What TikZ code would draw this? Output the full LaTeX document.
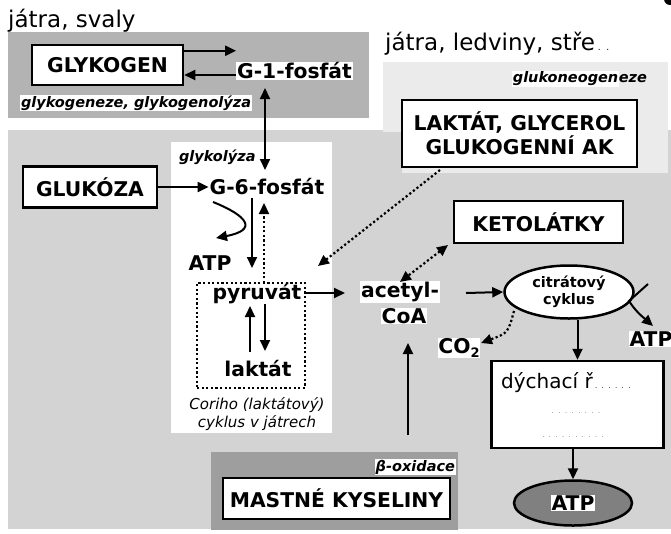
\documentclass[tikz,border=0pt]{standalone}
\usepackage{fontspec}
\setmainfont{DejaVu Sans}
\usetikzlibrary{arrows.meta,shapes.geometric}
\definecolor{gmain}{HTML}{D3D3D3}
\definecolor{gdark}{HTML}{B3B3B3}
\definecolor{glight}{HTML}{EBEBEB}
\definecolor{gbeta}{HTML}{9E9E9E}
\definecolor{gatp}{HTML}{808080}
\begin{document}
\begin{tikzpicture}[x=1pt,y=-1pt,
  box/.style={draw, line width=2.5pt, fill=white, font=\fontsize{20.3}{23}\selectfont\bfseries, inner sep=0pt, align=center},
  lbl/.style={font=\fontsize{20.3}{23}\selectfont\bfseries, inner sep=0.8pt},
  wlbl/.style={lbl, fill=white},
  itl/.style={font=\fontsize{14.5}{16}\selectfont\bfseries\itshape, inner sep=0.8pt},
  plain/.style={font=\fontsize{23}{26}\selectfont, inner sep=0pt},
  arr/.style={line width=2pt, -{Triangle[length=11pt,width=10pt]}},
  darr/.style={line width=2pt, {Triangle[length=11pt,width=10pt]}-{Triangle[length=11pt,width=10pt]}},
  dots/.style={line width=2.2pt, dash pattern=on 2.2pt off 2.4pt},
  dotarr/.style={dots, -{Triangle[length=11pt,width=10pt]}},
  ddotarr/.style={dots, {Triangle[length=11pt,width=10pt]}-{Triangle[length=11pt,width=10pt]}}
]
\useasboundingbox (0,0) rectangle (671,533);
\fill[white] (0,0) rectangle (671,533);
% regions
\fill[gmain] (8,130) rectangle (671,529);
\fill[gdark] (8,32) rectangle (369,118);
\fill[glight] (383,62) rectangle (668,132);
\fill[glight] (402,132) rectangle (668,173);
\fill[white] (171,142) rectangle (332,433);
\fill[gbeta] (211,452) rectangle (458,530);
\fill (670,-1) circle (6);

% top texts
\node[plain, anchor=base west] (jsv) at (8,27) {játra, svaly};
\node[plain, anchor=base west] (jle) at (385,50) {játra, ledviny, stře{\fontsize{9}{9}\selectfont~.~~.}};

% glycogen part
\node[box, minimum width=151pt, minimum height=40pt] (glyk) at (107.5,65) {GLYKOGEN};
\node[wlbl] (g1) at (294.5,71) {G-1-fosfát};
\node[itl, fill=white, anchor=west] (gg) at (20,103) {glykogeneze, glykogenolýza};
\coordinate (a1) at ([yshift=-7pt]glyk.north east);
\coordinate (a2) at ([yshift=-10pt]glyk.east);
\draw[arr] (a1) -- (a1 -| g1.west);
\draw[arr] (a2 -| g1.west) -- (a2);

% glycolysis panel
\node[itl, anchor=west] (glz) at (178,157) {glykolýza};
\node[box, minimum width=134pt, minimum height=41pt] (glu) at (90,187) {GLUKÓZA};
\node[lbl] (g6) at (267,187) {G-6-fosfát};
\coordinate (v1) at (265,88);
\coordinate (v2) at (265,170);
\draw[darr] (v1) -- (v2);
\draw[arr] (glu.east) -- (g6.west);
\node[lbl] (atp1) at (210,263) {ATP};
\coordinate (c1) at (213,202);
\coordinate (c2) at (216,238);
\draw[arr] (c1) .. controls (248,216) and (258,230) .. (c2);
\coordinate (d1) at (252,198);
\coordinate (d2) at (252,268);
\draw[arr] (d1) -- (d2);

\node[draw, line width=2.2pt, dash pattern=on 2.2pt off 2.4pt, minimum width=108pt, minimum height=105pt, inner sep=0pt] (cori) at (251,335.5) {};
\coordinate (u1) at (264,283);
\coordinate (u2) at (264,203);
\draw[dotarr] (u1) -- (u2);
\node[lbl] (pyr) at (257,294) {pyruvát};
\node[lbl] (lak) at (258,369) {laktát};
\coordinate (p1) at (250,352);
\coordinate (p2) at (250,306);
\draw[arr] (p1) -- (p2);
\coordinate (q1) at (265,304);
\coordinate (q2) at (265,351);
\draw[arr] (q1) -- (q2);
\node[font=\fontsize{15}{18}\selectfont\itshape, align=center, inner sep=0pt] (cortxt) at (257,414) {Coriho (laktátový)\\cyklus v játrech};

% acetyl CoA
\node[wlbl] (acet) at (400,292) {acetyl-};
\node[wlbl] (coa) at (404,316) {CoA};
\coordinate (pa) at (345,293);
\draw[arr] (cori.east |- pa) -- (pa);

% gluconeogenesis
\node[itl, anchor=east] (gng) at (648,79) {\fboxsep=0.6pt\colorbox{white}{glukoneogen}eze};
\node[box, minimum width=235pt, minimum height=67pt, font=\fontsize{20.3}{24}\selectfont\bfseries] (lg) at (519.5,133.5) {LAKTÁT, GLYCEROL\\GLUKOGENNÍ AK};
\coordinate (l1) at (440,170);
\coordinate (l2) at (318,266);
\draw[dotarr] (l1) -- (l2);

% ketone bodies
\node[box, minimum width=169pt, minimum height=42pt] (ket) at (538.5,222) {KETOLÁTKY};
\coordinate (k1) at (448,245);
\coordinate (k2) at (400,282);
\draw[ddotarr] (k1) -- (k2);

% citric acid cycle
\node[ellipse, draw, line width=2.5pt, fill=white, minimum width=129pt, minimum height=53pt, inner sep=0pt, align=center, font=\fontsize{14.5}{17}\selectfont\bfseries] (cit) at (569,292) {citrátový\\cyklus};
\coordinate (ac) at (466,293);
\draw[arr] (ac) -- (cit.west);
\node[wlbl] (atp2) at (651,339) {ATP};
\coordinate (t1) at (648,284);
\coordinate (t2) at (653,326);
\draw[arr] (t1) -- (629,301) .. controls (636,312) and (644,318) .. (t2);
\node[wlbl] (co2) at (459,348) {CO\raisebox{-4pt}{\fontsize{13}{13}\selectfont 2}};
\coordinate (s1) at (514,311);
\coordinate (s2) at (481,343);
\draw[dotarr] (s1) .. controls (508,333) .. (s2);

% respiratory chain
\node[box, minimum width=172pt, minimum height=87pt] (dch) at (577.5,404.5) {};
\node[font=\fontsize{20}{24}\selectfont, inner sep=0pt, anchor=base west] (dtxt) at (501,388) {dýchací ř{\fontsize{7}{7}\selectfont~.~~.~~.~~.~~.~~.}};
\node[font=\fontsize{5}{5}\selectfont, inner sep=0pt] (dl2) at (576,413) {.\quad .\quad .\quad .\quad .\quad .\quad .\quad .};
\node[font=\fontsize{5}{5}\selectfont, inner sep=0pt] (dl3) at (573,437) {.\quad .\quad .\quad .\quad .\quad .\quad .\quad .\quad .\quad .};
\draw[arr] (cit.south -| dch.north) -- (dch.north);
\node[ellipse, draw, line width=2.5pt, fill=gatp, minimum width=118pt, minimum height=45pt, inner sep=0pt] (atp3) at (573,503) {};
\node[wlbl] (atp3t) at (atp3.center) {ATP};
\draw[arr] (dch.south -| atp3.north) -- (atp3.north);

% fatty acids
\node[itl, fill=white, anchor=east] (box2) at (456,467) {β-oxidace};
\node[box, minimum width=227pt, minimum height=41pt] (mk) at (336.5,498.5) {MASTNÉ KYSELINY};
\coordinate (m1) at (408,435);
\coordinate (m2) at (408,343);
\draw[arr] (m1) -- (m2);
\end{tikzpicture}
\end{document}
